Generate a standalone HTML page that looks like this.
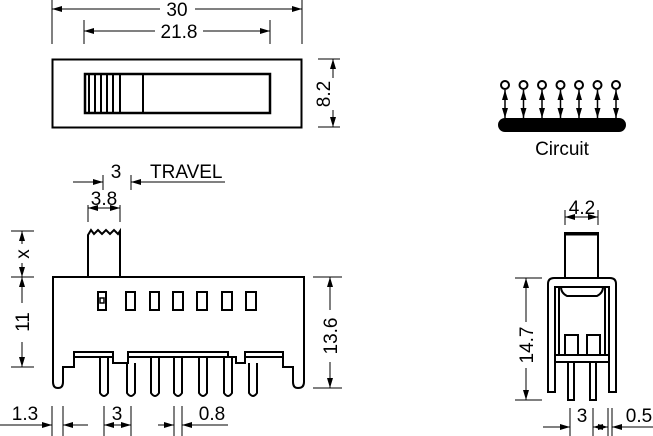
<!DOCTYPE html>
<html><head><style>
html,body{margin:0;padding:0;background:#fff;}
svg{display:block;}
text{font-family:"Liberation Sans",Arial,sans-serif;font-size:19px;fill:#000;}
</style></head><body>
<svg width="653" height="436" viewBox="0 0 653 436" xmlns="http://www.w3.org/2000/svg">
<defs>
<marker id="a" viewBox="0 0 10 6" refX="10" refY="3" markerWidth="10" markerHeight="6" orient="auto-start-reverse" markerUnits="userSpaceOnUse"><path d="M0,0 L10,3 L0,6 z" fill="#000"/></marker>
</defs>
<g stroke="#000" stroke-width="1" fill="none">
<line x1="52" y1="0" x2="52" y2="44"/><line x1="302" y1="0" x2="302" y2="44"/>
<line x1="52" y1="9" x2="160" y2="9" marker-start="url(#a)"/>
<line x1="195" y1="9" x2="302" y2="9" marker-end="url(#a)"/>
<line x1="84" y1="20" x2="84" y2="44"/><line x1="270" y1="20" x2="270" y2="44"/>
<line x1="84" y1="31" x2="155" y2="31" marker-start="url(#a)"/>
<line x1="203" y1="31" x2="270" y2="31" marker-end="url(#a)"/>
<line x1="318" y1="59" x2="340" y2="59"/><line x1="318" y1="127" x2="340" y2="127"/>
<line x1="333" y1="59" x2="333" y2="78" marker-start="url(#a)"/>
<line x1="333" y1="110" x2="333" y2="127" marker-end="url(#a)"/>
</g>
<text x="177" y="16" text-anchor="middle">30</text>
<text x="179" y="38" text-anchor="middle">21.8</text>
<text transform="translate(330,94) rotate(-90)" text-anchor="middle">8.2</text>
<rect x="52.5" y="59.5" width="249" height="68" fill="none" stroke="#000" stroke-width="2"/>
<rect x="85" y="74" width="185" height="39" fill="none" stroke="#000" stroke-width="2.5"/>
<line x1="143" y1="74" x2="143" y2="113" stroke="#000" stroke-width="2"/>
<g stroke="#000" stroke-width="2">
<line x1="89" y1="74" x2="89" y2="113"/><line x1="95" y1="74" x2="95" y2="113"/><line x1="101" y1="74" x2="101" y2="113"/><line x1="107" y1="74" x2="107" y2="113"/><line x1="113" y1="74" x2="113" y2="113"/><line x1="120" y1="74" x2="120" y2="113"/>
</g>
<g stroke="#000" stroke-width="2" fill="none">
<circle cx="505" cy="85" r="4"/><circle cx="523.5" cy="85" r="4"/><circle cx="542" cy="85" r="4"/><circle cx="560.5" cy="85" r="4"/><circle cx="579" cy="85" r="4"/><circle cx="597.5" cy="85" r="4"/><circle cx="616" cy="85" r="4"/>
</g>
<g stroke="#000" stroke-width="1.5">
<line x1="505" y1="90" x2="505" y2="118" marker-start="url(#a)" marker-end="url(#a)"/>
<line x1="523.5" y1="90" x2="523.5" y2="118" marker-start="url(#a)" marker-end="url(#a)"/>
<line x1="542" y1="90" x2="542" y2="118" marker-start="url(#a)" marker-end="url(#a)"/>
<line x1="560.5" y1="90" x2="560.5" y2="118" marker-start="url(#a)" marker-end="url(#a)"/>
<line x1="579" y1="90" x2="579" y2="118" marker-start="url(#a)" marker-end="url(#a)"/>
<line x1="597.5" y1="90" x2="597.5" y2="118" marker-start="url(#a)" marker-end="url(#a)"/>
<line x1="616" y1="90" x2="616" y2="118" marker-start="url(#a)" marker-end="url(#a)"/>
</g>
<rect x="498" y="118" width="128" height="14" rx="7" fill="#000"/>
<text x="562" y="155" text-anchor="middle">Circuit</text>
<g stroke="#000" stroke-width="2" fill="none">
<path d="M88,277 V235 L91,230 L94,234 L98,230 L102,234 L106,230 L110,234 L114,230 L118,234 L120,231 V277"/>
<path d="M53,277 H304 V382 Q304,388 298,388 Q293,388 293,382 V367 H283 V357 H245 V363 H236 V357 H128 V363 H113 V357 H74 V367 H63 V382 Q63,388 58,388 Q53,388 53,382 Z"/>
<path d="M74,357 V352 H113 V357 M128,357 V352 H228 V357 M245,357 V352 H283 V357"/>
<rect x="98" y="292" width="8" height="18"/>
<rect x="100" y="298" width="4" height="5" stroke-width="1.5"/>
<rect x="126" y="292" width="9" height="18"/><rect x="150" y="292" width="9" height="18"/><rect x="173" y="292" width="10" height="18"/><rect x="197" y="292" width="10" height="18"/><rect x="222" y="292" width="10" height="18"/><rect x="246" y="292" width="10" height="18"/>
<path d="M100,357 V393 Q104,399 108,393 V357"/>
<path d="M127,363 V393 Q131,399 135,393 V363"/>
<path d="M151,357 V393 Q155,399 159,393 V357"/>
<path d="M174,357 V393 Q178,399 182,393 V357"/>
<path d="M199,357 V393 Q203,399 207,393 V357"/>
<path d="M224,357 V393 Q228,399 232,393 V357"/>
<path d="M249,363 V393 Q253,399 257,393 V363"/>
</g>
<g stroke="#000" stroke-width="1" fill="none">
<line x1="73" y1="182" x2="103" y2="182" marker-end="url(#a)"/>
<line x1="103" y1="175" x2="103" y2="190"/><line x1="131" y1="175" x2="131" y2="190"/>
<line x1="225" y1="182" x2="131" y2="182" marker-end="url(#a)"/>
<line x1="88" y1="205" x2="88" y2="222"/><line x1="120" y1="205" x2="120" y2="222"/>
<line x1="88" y1="208" x2="120" y2="208" marker-start="url(#a)" marker-end="url(#a)"/>
<line x1="11" y1="231" x2="34" y2="231"/><line x1="11" y1="277" x2="34" y2="277"/><line x1="11" y1="367" x2="34" y2="367"/>
<line x1="22" y1="231" x2="22" y2="244" marker-start="url(#a)"/>
<line x1="22" y1="263" x2="22" y2="277" marker-end="url(#a)"/>
<line x1="22" y1="277" x2="22" y2="303" marker-start="url(#a)"/>
<line x1="22" y1="342" x2="22" y2="367" marker-end="url(#a)"/>
<line x1="313" y1="277" x2="342" y2="277"/><line x1="313" y1="388" x2="342" y2="388"/>
<line x1="330" y1="277" x2="330" y2="310" marker-start="url(#a)"/>
<line x1="330" y1="362" x2="330" y2="388" marker-end="url(#a)"/>
<line x1="52" y1="406" x2="52" y2="436"/><line x1="63" y1="406" x2="63" y2="436"/>
<line x1="0" y1="425" x2="52" y2="425" marker-end="url(#a)"/>
<line x1="88" y1="425" x2="63" y2="425" marker-end="url(#a)"/>
<line x1="104" y1="406" x2="104" y2="436"/><line x1="131" y1="406" x2="131" y2="436"/>
<line x1="104" y1="425" x2="131" y2="425" marker-start="url(#a)" marker-end="url(#a)"/>
<line x1="174" y1="406" x2="174" y2="436"/><line x1="182" y1="406" x2="182" y2="436"/>
<line x1="158" y1="425" x2="174" y2="425" marker-end="url(#a)"/>
<line x1="228" y1="425" x2="182" y2="425" marker-end="url(#a)"/>
</g>
<text x="116" y="178" text-anchor="middle">3</text>
<text x="150" y="178">TRAVEL</text>
<text x="104" y="205" text-anchor="middle">3.8</text>
<text transform="translate(29,254) rotate(-90)" text-anchor="middle">x</text>
<text transform="translate(29,322) rotate(-90)" text-anchor="middle">11</text>
<text transform="translate(337,336) rotate(-90)" text-anchor="middle">13.6</text>
<text x="25" y="420" text-anchor="middle">1.3</text>
<text x="117" y="420" text-anchor="middle">3</text>
<text x="212" y="420" text-anchor="middle">0.8</text>
<g stroke="#000" stroke-width="2" fill="none">
<rect x="565" y="233" width="33" height="45"/>
<line x1="565" y1="234" x2="598" y2="234" stroke-width="3"/>
<path d="M548,392 V284 Q548,278 554,278 H610 Q616,278 616,284 V392 H609 V287 H555 V392 Z"/>
<path d="M555,287 H609 M561,287 Q561,293 567,296 H597 Q603,293 603,287"/>
<line x1="559" y1="287" x2="559" y2="355"/><line x1="605" y1="287" x2="605" y2="355"/>
<rect x="555" y="355" width="54" height="7"/>
<rect x="565" y="335" width="13" height="20"/><rect x="587" y="335" width="13" height="20"/>
<rect x="568" y="362" width="6" height="38"/><rect x="590" y="362" width="6" height="38"/>
</g>
<g stroke="#000" stroke-width="1" fill="none">
<line x1="565" y1="210" x2="565" y2="225"/><line x1="598" y1="210" x2="598" y2="225"/>
<line x1="565" y1="217" x2="598" y2="217" marker-start="url(#a)" marker-end="url(#a)"/>
<line x1="515" y1="278" x2="542" y2="278"/><line x1="515" y1="400" x2="542" y2="400"/>
<line x1="526" y1="278" x2="526" y2="322" marker-start="url(#a)"/>
<line x1="526" y1="368" x2="526" y2="400" marker-end="url(#a)"/>
<line x1="570" y1="408" x2="570" y2="436"/><line x1="593" y1="408" x2="593" y2="436"/>
<line x1="608" y1="408" x2="608" y2="436"/><line x1="612" y1="408" x2="612" y2="436"/>
<line x1="543" y1="427" x2="570" y2="427" marker-end="url(#a)"/>
<line x1="593" y1="427" x2="608" y2="427" marker-start="url(#a)" marker-end="url(#a)"/>
<line x1="653" y1="427" x2="612" y2="427" marker-end="url(#a)"/>
</g>
<text x="582" y="214" text-anchor="middle">4.2</text>
<text transform="translate(533,345) rotate(-90)" text-anchor="middle">14.7</text>
<text x="582" y="422" text-anchor="middle">3</text>
<text x="639" y="422" text-anchor="middle">0.5</text>
</svg>
</body></html>
